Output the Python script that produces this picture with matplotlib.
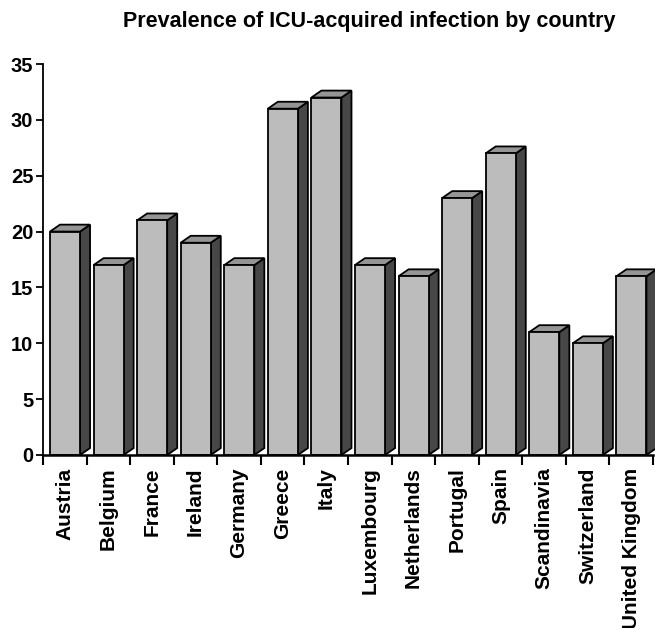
import matplotlib
matplotlib.use("Agg")
import matplotlib.pyplot as plt
from matplotlib.patches import Polygon

countries = ["Austria", "Belgium", "France", "Ireland", "Germany", "Greece",
             "Italy", "Luxembourg", "Netherlands", "Portugal", "Spain",
             "Scandinavia", "Switzerland", "United Kingdom"]
prevalence = [20, 17, 21, 19, 17, 31, 32, 17, 16, 23, 27, 11, 10, 16]
yticks = [0, 5, 10, 15, 20, 25, 30, 35]
title = "Prevalence of ICU-acquired infection by country"

plt.rcParams["font.family"] = ["Liberation Sans", "DejaVu Sans"]
plt.rcParams["font.weight"] = "bold"

W, H = 655, 628
fig = plt.figure(figsize=(W / 100, H / 100), dpi=100)
ax = fig.add_axes([43 / W, (H - 455) / H, (653 - 43) / W, (455 - 64) / H])
ax.set_xlim(0, len(countries))
ax.set_ylim(0, 35)

front_c = "#bcbcbc"
side_c = "#474747"
top_c = "#959595"
lw = 1.3

x0_off, x1_off = 0.16, 0.85
dx, dy = 0.23, 0.62

for i, v in enumerate(prevalence):
    x0 = i + x0_off
    x1 = i + x1_off
    # side face, cut diagonally at the floor
    side = Polygon([(x1, 0), (x1 + dx, dy), (x1 + dx, v + dy), (x1, v)],
                   closed=True, facecolor=side_c, edgecolor="black",
                   linewidth=lw, zorder=2, clip_on=False)
    ax.add_patch(side)
    # top face
    top = Polygon([(x0, v), (x0 + dx, v + dy), (x1 + dx, v + dy), (x1, v)],
                  closed=True, facecolor=top_c, edgecolor="black",
                  linewidth=lw, zorder=2, clip_on=False)
    ax.add_patch(top)
    # front face
    ax.bar(x0, v, width=x1 - x0, align="edge", color=front_c,
           edgecolor="black", linewidth=lw, zorder=3)

for s in ["top", "right"]:
    ax.spines[s].set_visible(False)
ax.spines["left"].set_linewidth(1.3)
ax.spines["bottom"].set_linewidth(1.8)
ax.spines["bottom"].set_zorder(4)

ax.set_yticks(yticks)
ax.set_yticklabels([str(t) for t in yticks], fontsize=14.5, fontweight="bold")
ax.tick_params(axis="y", direction="out", length=5, width=1.3, pad=2)

ax.set_xticks(range(len(countries) + 1))
ax.set_xticklabels([])
ax.tick_params(axis="x", direction="out", length=7, width=1.5)
ax.set_xticks([i + 0.5 for i in range(len(countries))], minor=True)
ax.set_xticklabels(countries, minor=True, rotation=90, fontsize=15,
                   fontweight="bold", va="top", ha="center")
ax.tick_params(axis="x", which="minor", length=0, pad=9)

fig.text(369 / W, 1 - 22 / H, title, ha="center", va="center",
         fontsize=15.5, fontweight="bold")

fig.savefig("out.png", dpi=100)
